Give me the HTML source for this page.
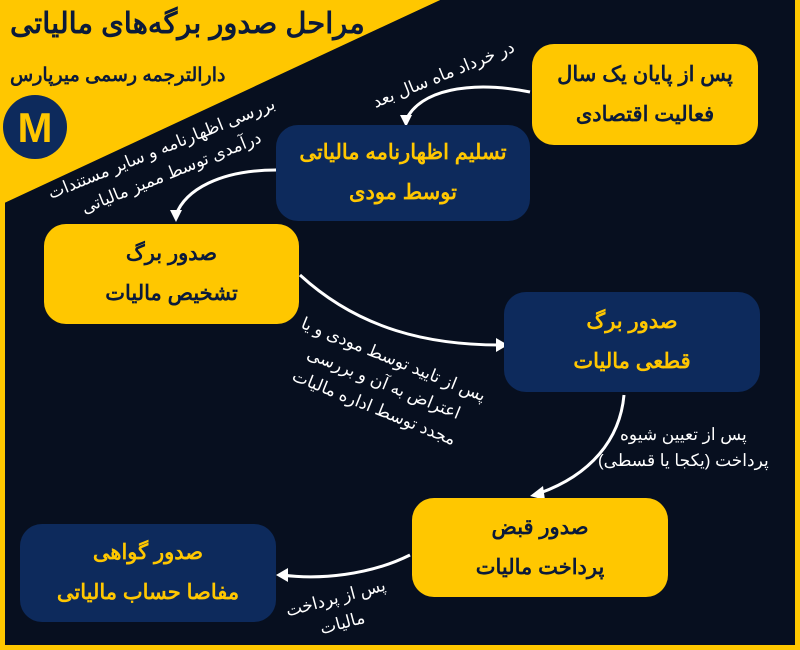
<!DOCTYPE html>
<html><head><meta charset="utf-8"><style>
body{margin:0;width:800px;height:650px;overflow:hidden;background:#ffc700}
.w{position:absolute;left:0;top:0;width:800px;height:650px}
.t{font-family:"Liberation Sans","Noto Sans CJK SC",sans-serif;font-weight:bold}
.box{position:absolute;border-radius:22px;display:flex;flex-direction:column;align-items:center;justify-content:center;font-family:"Liberation Sans","Noto Sans CJK SC",sans-serif;font-weight:bold;font-size:21px;line-height:40px;direction:rtl}
.y{background:#ffc700;color:#0b1a3a}
.n{background:#0d2a5c;color:#ffc700}
.lab{position:absolute;color:#fff;font-family:"Liberation Sans","Noto Sans CJK SC",sans-serif;font-size:17px;line-height:26px;direction:rtl;text-align:center;white-space:nowrap}
</style></head><body>
<svg class="w" width="800" height="650">
<polygon points="440,0 795,0 795,645 5,645 5,200" fill="#070f1f"/>
<polygon points="0,0 440,0 0,205" fill="#ffc700"/>
<g fill="none" stroke="#fff" stroke-width="3">
<path d="M530,92 C470,80 420,90 406,120"/>
<path d="M276,170 C220,170 185,190 176,215"/>
<path d="M300,275 C360,330 430,345 500,345"/>
<path d="M624,395 C620,440 590,475 540,493"/>
<path d="M410,555 C370,575 320,580 282,575"/>
</g>
<g fill="#fff">
<polygon points="400,115 412,115 406,127"/>
<polygon points="170,210 182,210 176,222"/>
<polygon points="496,338 508,345 496,352"/>
<polygon points="543,486 530,496 545,500"/>
<polygon points="288,568 276,575 288,582"/>
</g>
<circle cx="35" cy="127" r="32" fill="#0d2a5c"/>
<text x="35" y="142" text-anchor="middle" fill="#ffc700" font-family="Liberation Sans" font-weight="bold" font-size="42">M</text>
</svg>
<div class="t" style="position:absolute;left:10px;top:6px;font-size:29px;color:#0b1a3a;direction:rtl;width:380px;text-align:left">مراحل صدور برگه‌های مالیاتی</div>
<div class="t" style="position:absolute;left:10px;top:64px;font-size:19px;color:#0b1a3a;direction:rtl;width:260px;text-align:left">دارالترجمه رسمی میرپارس</div>
<div class="box y" style="left:532px;top:44px;width:226px;height:101px"><div>پس از پایان یک سال</div><div>فعالیت اقتصادی</div></div>
<div class="box n" style="left:276px;top:125px;width:254px;height:96px"><div>تسلیم اظهارنامه مالیاتی</div><div>توسط مودی</div></div>
<div class="box y" style="left:44px;top:224px;width:255px;height:100px"><div>صدور برگ</div><div>تشخیص مالیات</div></div>
<div class="box n" style="left:504px;top:292px;width:256px;height:100px"><div>صدور برگ</div><div>قطعی مالیات</div></div>
<div class="box y" style="left:412px;top:498px;width:256px;height:99px"><div>صدور قبض</div><div>پرداخت مالیات</div></div>
<div class="box n" style="left:20px;top:524px;width:256px;height:98px"><div>صدور گواهی</div><div>مفاصا حساب مالیاتی</div></div>
<div class="lab" style="left:368px;top:62px;transform:rotate(-22deg)">در خرداد ماه سال بعد</div>
<div class="lab" style="left:45px;top:135px;transform:rotate(-22deg)">بررسی اظهارنامه و سایر مستندات<br>درآمدی توسط ممیز مالیاتی</div>
<div class="lab" style="left:285px;top:345px;transform:rotate(22deg)">پس از تایید توسط مودی و یا<br>اعتراض به آن و بررسی<br>مجدد توسط اداره مالیات</div>
<div class="lab" style="left:598px;top:422px">پس از تعیین شیوه<br>پرداخت (یکجا یا قسطی)</div>
<div class="lab" style="left:288px;top:585px;transform:rotate(-15deg)">پس از پرداخت<br>مالیات</div>
</body></html>
